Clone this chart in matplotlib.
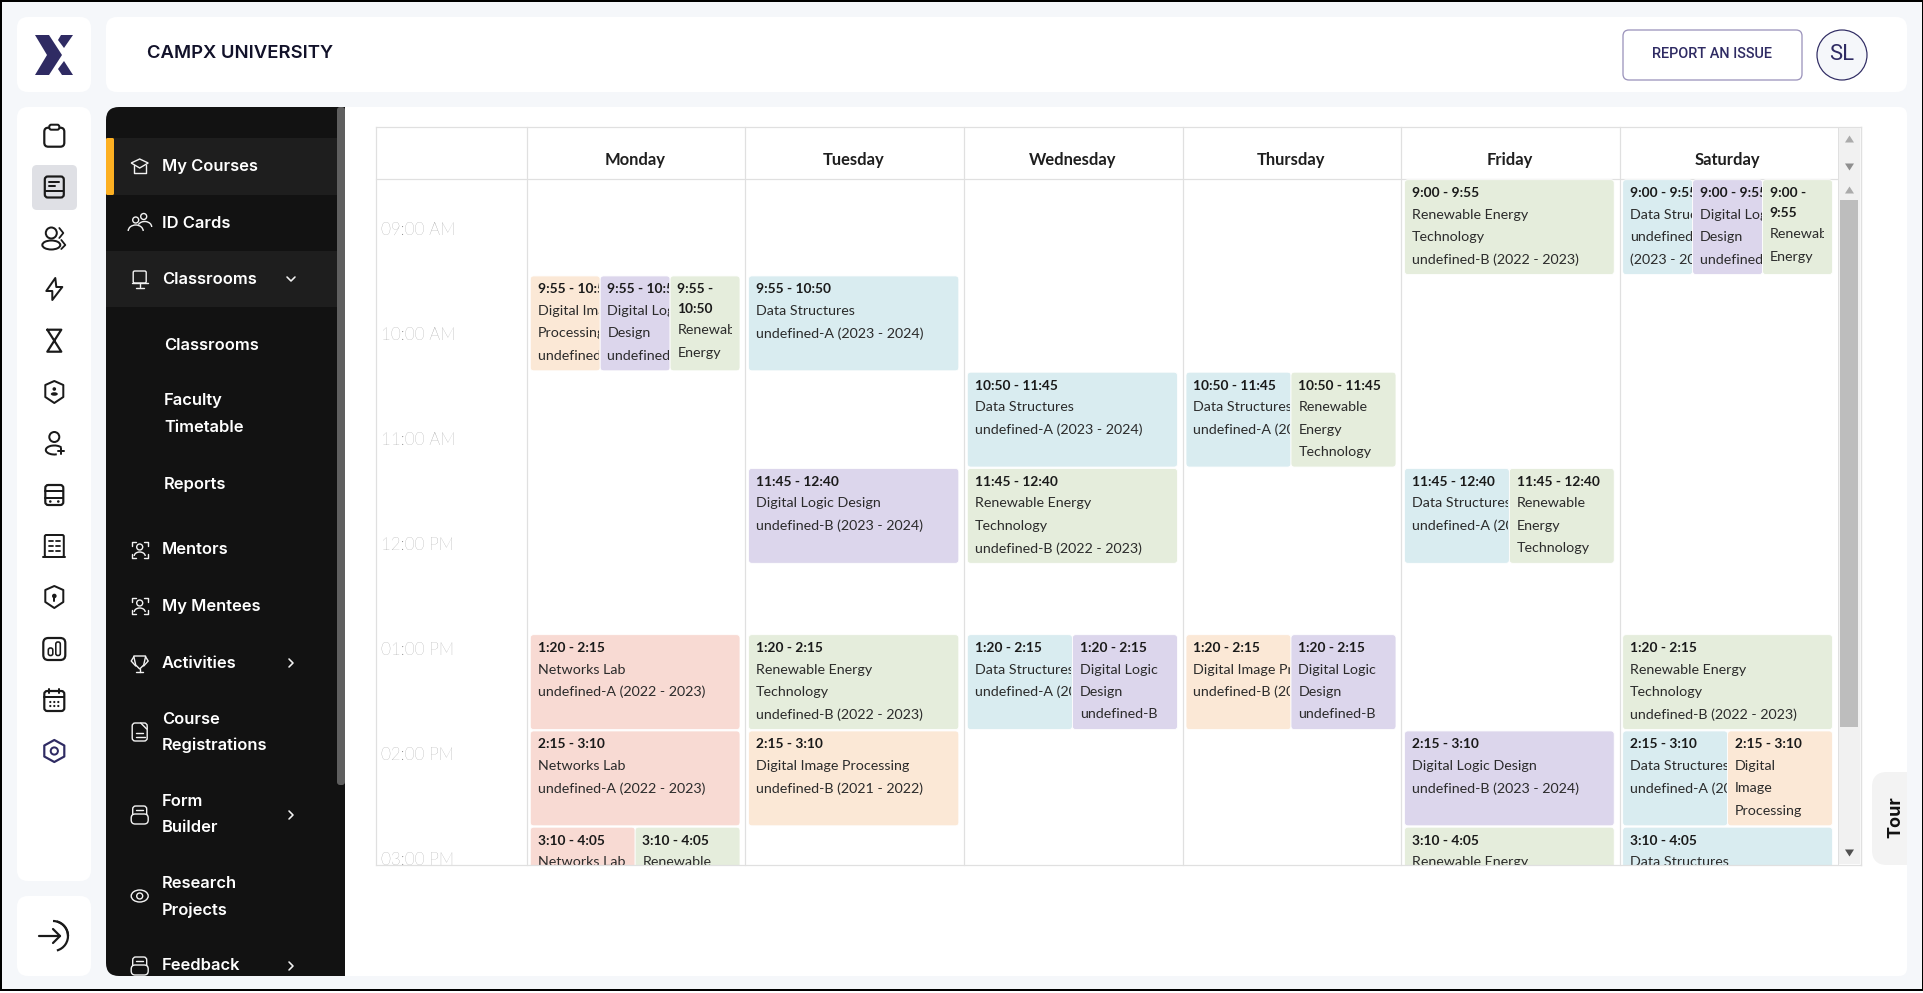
import matplotlib
matplotlib.use("Agg")
import matplotlib.pyplot as plt
from matplotlib.patches import FancyBboxPatch, Rectangle, Circle, Ellipse, Polygon, Arc

# timetable data
days = ["Monday", "Tuesday", "Wednesday", "Thursday", "Friday", "Saturday"]
hour_labels = ["09:00 AM", "10:00 AM", "11:00 AM", "12:00 PM", "01:00 PM", "02:00 PM", "03:00 PM"]

ev_day = [0, 0, 0, 0, 0, 0, 0,
          1, 1, 1, 1,
          2, 2, 2, 2,
          3, 3, 3, 3,
          4, 4, 4, 4, 4,
          5, 5, 5, 5, 5, 5, 5]
ev_start = ["9:55", "9:55", "9:55", "1:20", "2:15", "3:10", "3:10",
            "9:55", "11:45", "1:20", "2:15",
            "10:50", "11:45", "1:20", "1:20",
            "10:50", "10:50", "1:20", "1:20",
            "9:00", "11:45", "11:45", "2:15", "3:10",
            "9:00", "9:00", "9:00", "1:20", "2:15", "2:15", "3:10"]
ev_end = ["10:50", "10:50", "10:50", "2:15", "3:10", "4:05", "4:05",
          "10:50", "12:40", "2:15", "3:10",
          "11:45", "12:40", "2:15", "2:15",
          "11:45", "11:45", "2:15", "2:15",
          "9:55", "12:40", "12:40", "3:10", "4:05",
          "9:55", "9:55", "9:55", "2:15", "3:10", "3:10", "4:05"]
ev_slot = [0, 1, 2, 0, 0, 0, 1,
           0, 0, 0, 0,
           0, 0, 0, 1,
           0, 1, 0, 1,
           0, 0, 1, 0, 0,
           0, 1, 2, 0, 0, 1, 0]
ev_nslots = [3, 3, 3, 1, 1, 2, 2,
             1, 1, 1, 1,
             1, 1, 2, 2,
             2, 2, 2, 2,
             1, 2, 2, 1, 1,
             3, 3, 3, 1, 2, 2, 1]
ev_subject = ["dip", "dld", "ret", "net", "net", "net", "ret",
              "ds", "dld", "ret", "dip",
              "ds", "ret", "ds", "dld",
              "ds", "ret", "dip", "dld",
              "ret", "ds", "ret", "dld", "ret",
              "ds", "dld", "ret", "ret", "ds", "dip", "ds"]
ev_text = [
    ["Digital Image", "Processing", "undefined-B (2021 - 2022)"],
    ["Digital Logic", "Design", "undefined-B (2023 - 2024)"],
    ["Renewable", "Energy"],
    ["Networks Lab", "undefined-A (2022 - 2023)"],
    ["Networks Lab", "undefined-A (2022 - 2023)"],
    ["Networks Lab", "undefined-A (2022 - 2023)"],
    ["Renewable", "Energy"],
    ["Data Structures", "undefined-A (2023 - 2024)"],
    ["Digital Logic Design", "undefined-B (2023 - 2024)"],
    ["Renewable Energy", "Technology", "undefined-B (2022 - 2023)"],
    ["Digital Image Processing", "undefined-B (2021 - 2022)"],
    ["Data Structures", "undefined-A (2023 - 2024)"],
    ["Renewable Energy", "Technology", "undefined-B (2022 - 2023)"],
    ["Data Structures", "undefined-A (2023 - 2024)"],
    ["Digital Logic", "Design", "undefined-B"],
    ["Data Structures", "undefined-A (2023 - 2024)"],
    ["Renewable", "Energy", "Technology"],
    ["Digital Image Processing", "undefined-B (2021 - 2022)"],
    ["Digital Logic", "Design", "undefined-B"],
    ["Renewable Energy", "Technology", "undefined-B (2022 - 2023)"],
    ["Data Structures", "undefined-A (2023 - 2024)"],
    ["Renewable", "Energy", "Technology"],
    ["Digital Logic Design", "undefined-B (2023 - 2024)"],
    ["Renewable Energy", "Technology"],
    ["Data Structures", "undefined-A", "(2023 - 2024)"],
    ["Digital Logic", "Design", "undefined-B (2023 - 2024)"],
    ["Renewable", "Energy"],
    ["Renewable Energy", "Technology", "undefined-B (2022 - 2023)"],
    ["Data Structures", "undefined-A (2023 - 2024)"],
    ["Digital", "Image", "Processing"],
    ["Data Structures", "undefined-A (2023 - 2024)"],
]
subject_colors = {"dip": "#FBE8D6", "dld": "#DCD6EC", "ret": "#E5EDDC", "ds": "#D9ECF0", "net": "#F8DAD3"}

# sidebar text: label lines, y centre of each line, is it a sub item
menu_lines = ["My Courses", "ID Cards", "Classrooms", "Classrooms", "Faculty", "Timetable", "Reports", "Mentors",
              "My Mentees", "Activities", "Course", "Registrations", "Form", "Builder", "Research", "Projects", "Feedback"]
menu_y = [166, 223, 279, 345, 401, 428, 484, 550, 606, 663, 719, 745, 801, 828, 884, 910, 966]
menu_sub = [0, 0, 0, 1, 1, 1, 1, 0, 0, 0, 0, 0, 0, 0, 0, 0, 0]

W, H = 1924, 993
NAVY = "#2F2B63"
BG = "#F5F7FA"
GRID = "#E0E0E0"
INK = "#1A1A1A"
UI_FONT = ["Inter", "DejaVu Sans"]
CAL_FONT = ["Lato", "DejaVu Sans"]

col_x = [527.3, 745.5, 964.3, 1183, 1401.5, 1619.7, 1838]
TABLE_L, TABLE_R, TABLE_T, HEAD_B, TABLE_B = 376, 1861, 127, 179, 865
PX_PER_MIN = 1.75


def px(size):
    return size * 72 / 100


fig = plt.figure(figsize=(W / 100, H / 100), dpi=100, facecolor=BG)
ax = fig.add_axes([0, 0, 1, 1])
ax.set_xlim(0, W)
ax.set_ylim(H, 0)
ax.axis("off")


def rrect(x0, y0, x1, y1, r, fc="none", ec="none", lw=0, z=1):
    p = FancyBboxPatch((x0, y0), x1 - x0, y1 - y0, boxstyle=f"round,pad=0,rounding_size={r}",
                       fc=fc, ec=ec, lw=px(lw), zorder=z)
    ax.add_patch(p)
    return p


def line(xs, ys, c=INK, lw=2, z=5):
    ax.plot(xs, ys, color=c, lw=px(lw), solid_capstyle="round", solid_joinstyle="round", zorder=z)


def minutes(t):
    h, m = t.split(":")
    h = int(h)
    if h < 9:
        h += 12
    return (h - 9) * 60 + int(m)


def time_y(t):
    return HEAD_B + minutes(t) * PX_PER_MIN


# cards
rrect(17, 17, 91, 92, 11, fc="white")
rrect(106, 17, 1907, 92, 11, fc="white")
rrect(17, 107, 91, 881, 11, fc="white")
rrect(17, 896, 91, 976, 11, fc="white")
rrect(320, 107, 1907, 976, 8, fc="white")
rrect(106, 107, 345, 976, 13, fc="#121212", z=2)
ax.add_patch(Rectangle((200, 107), 145, 869, fc="#121212", ec="none", zorder=2))

# logo
ax.add_patch(Polygon([(35, 35), (49, 35), (62, 55), (49, 75), (35, 75), (47, 55)], fc=NAVY, ec="none", zorder=3))
ax.add_patch(Polygon([(61, 35), (73, 35), (64, 48), (58, 40)], fc=NAVY, ec="none", zorder=3))
ax.add_patch(Polygon([(58, 69), (64, 61), (73, 75), (62, 75)], fc=NAVY, ec="none", zorder=3))

ax.text(147, 54, "CAMPX UNIVERSITY", family=UI_FONT, weight="semibold", fontsize=px(18.5), color="#12122A",
        va="center", ha="left", zorder=3)

# button and avatar
rrect(1623, 30, 1802, 80, 6, fc="white", ec="#9C94BC", lw=1.3)
ax.text(1712.5, 53.5, "REPORT AN ISSUE", family=["Roboto", "DejaVu Sans"], weight="medium", fontsize=px(14.5),
        color=NAVY, va="center", ha="center", zorder=3)
ax.add_patch(Circle((1842, 55), 25, fc=BG, ec=NAVY, lw=px(1.2), zorder=3))
ax.text(1842, 54, "SL", family=["Roboto", "DejaVu Sans"], fontsize=px(22), color=NAVY, va="center", ha="center", zorder=4)

# left rail icons
rail_y = [135.7, 187, 239, 289, 340.7, 392, 443, 495, 546, 597, 649, 700, 751]
rrect(32, 165, 77, 210, 5, fc="#DFE0E5", z=2)
cx = 54.3


def rail_icon(i, y):
    x = cx
    if i == 0:
        rrect(x - 10, y - 8, x + 10, y + 11, 4, ec=INK, lw=2.2, z=5)
        rrect(x - 5, y - 11, x + 5, y - 6, 2, fc="white", ec=INK, lw=2, z=6)
    elif i == 1:
        rrect(x - 9.5, y - 10.5, x + 9.5, y + 10.5, 3, ec=INK, lw=2.2, z=5)
        line([x - 9, x + 9], [y + 4, y + 4])
        line([x - 5, x + 5], [y - 5, y - 5])
        line([x - 5, x + 1], [y - 1, y - 1])
    elif i == 2:
        ax.add_patch(Circle((x - 3, y - 6), 5.5, fc="none", ec=INK, lw=px(2), zorder=5))
        ax.add_patch(Ellipse((x - 3, y + 6), 18, 9, fc="none", ec=INK, lw=px(2), zorder=5))
        line([x + 5, x + 9, x + 5], [y - 11, y - 6, y - 1], lw=1.8)
        line([x + 7, x + 11, x + 7], [y + 1, y + 6, y + 10], lw=1.8)
    elif i == 3:
        ax.add_patch(Polygon([(x + 1, y - 11), (x - 8, y + 2), (x - 2, y + 2), (x - 2, y + 11), (x + 8, y - 2),
                              (x + 2, y - 2)], fc="none", ec=INK, lw=px(2), joinstyle="round", zorder=5))
    elif i == 4:
        line([x - 7, x + 7, x - 7, x + 7, x - 7], [y - 11, y + 11, y + 11, y - 11, y - 11], lw=2.2)
    elif i == 5:
        ax.add_patch(Polygon([(x, y - 11), (x + 9, y - 7), (x + 9, y + 5), (x, y + 11), (x - 9, y + 5), (x - 9, y - 7)],
                             fc="none", ec=INK, lw=px(2), joinstyle="round", zorder=5))
        ax.add_patch(Circle((x, y - 3), 1.8, fc=INK, ec="none", zorder=5))
        ax.add_patch(Ellipse((x, y + 2), 7, 3.5, fc=INK, ec="none", zorder=5))
    elif i == 6:
        ax.add_patch(Circle((x, y - 6), 5, fc="none", ec=INK, lw=px(2), zorder=5))
        ax.add_patch(Arc((x, y + 7), 17, 9, theta1=60, theta2=340, ec=INK, lw=px(2), zorder=5))
        line([x + 4, x + 10], [y + 8, y + 8])
        line([x + 7, x + 7], [y + 5, y + 11])
    elif i == 7:
        rrect(x - 9, y - 10, x + 9, y + 10, 3, ec=INK, lw=2.2, z=5)
        line([x - 9, x + 9], [y - 4, y - 4])
        line([x - 9, x + 9], [y + 3, y + 3])
        ax.add_patch(Circle((x - 4, y + 6.5), 1.3, fc=INK, ec="none", zorder=5))
        ax.add_patch(Circle((x + 4, y + 6.5), 1.3, fc=INK, ec="none", zorder=5))
    elif i == 8:
        rrect(x - 9.5, y - 11, x + 9.5, y + 11, 1.5, ec=INK, lw=2, z=5)
        line([x - 11, x + 11], [y + 11, y + 11])
        for dy in (-5, 0, 5):
            line([x - 5.5, x - 1.5], [y + dy, y + dy], lw=1.8)
            line([x + 1.5, x + 5.5], [y + dy, y + dy], lw=1.8)
    elif i == 9:
        ax.add_patch(Polygon([(x, y - 11), (x + 9, y - 7), (x + 9, y + 5), (x, y + 11), (x - 9, y + 5), (x - 9, y - 7)],
                             fc="none", ec=INK, lw=px(2), joinstyle="round", zorder=5))
        ax.add_patch(Circle((x, y - 1), 2.3, fc=INK, ec="none", zorder=5))
        line([x, x], [y, y + 4])
    elif i == 10:
        rrect(x - 11, y - 11, x + 11, y + 11, 5, ec=INK, lw=2.2, z=5)
        rrect(x - 6, y - 1, x - 1.5, y + 6.5, 2, ec=INK, lw=1.6, z=5)
        rrect(x + 1.5, y - 7, x + 6, y + 6.5, 2, ec=INK, lw=1.6, z=5)
    elif i == 11:
        rrect(x - 10, y - 9, x + 10, y + 11, 3, ec=INK, lw=2.2, z=5)
        line([x - 10, x + 10], [y - 3, y - 3])
        line([x - 5, x - 5], [y - 11, y - 7])
        line([x + 5, x + 5], [y - 11, y - 7])
        for dx in (-4, 0, 4):
            for dy in (2, 6):
                ax.add_patch(Circle((x + dx, y + dy), 1.1, fc=INK, ec="none", zorder=5))
    elif i == 12:
        ax.add_patch(Polygon([(x, y - 11), (x + 10, y - 5.5), (x + 10, y + 5.5), (x, y + 11), (x - 10, y + 5.5),
                              (x - 10, y - 5.5)], fc="none", ec=NAVY, lw=px(2.2), joinstyle="round", zorder=5))
        ax.add_patch(Circle((x, y), 3.6, fc="none", ec=NAVY, lw=px(2), zorder=5))


for i, y in enumerate(rail_y):
    rail_icon(i, y)

# exit icon
ax.add_patch(Arc((53, 936), 30, 30, theta1=-90 + 0, theta2=75, ec=INK, lw=px(2.2), zorder=5))
ax.add_patch(Arc((53, 936), 30, 30, theta1=285, theta2=360, ec=INK, lw=px(2.2), zorder=5))
line([39.5, 60], [936, 936], lw=2.2)
line([53, 60, 53], [929, 936, 943], lw=2.2)

# sidebar rows
ax.add_patch(Rectangle((106, 138), 231, 57, fc="#1E1E1E", ec="none", zorder=3))
ax.add_patch(Rectangle((106, 251), 231, 56, fc="#1E1E1E", ec="none", zorder=3))
rrect(106, 138, 114, 195, 1.5, fc="#FDB022", z=4)
side_scroll = rrect(337, 107, 345, 785, 3, fc="#5F5F5F", z=3)

clip_side = Rectangle((106, 107), 239, 869, transform=ax.transData)
for label, y, sub in zip(menu_lines, menu_y, menu_sub):
    t = ax.text(164 if sub else 161.7, y, label, family=UI_FONT, weight="semibold", fontsize=px(16.5), color="white",
                va="center", ha="left", zorder=6)
    t.set_clip_path(clip_side)
    t.set_clip_on(True)

# sidebar icons
ix = 139.7
WH = "#F2F2F2"


def wline(xs, ys, lw=1.4):
    line(xs, ys, c=WH, lw=lw, z=6)


def face_icon(y):
    for sx, sy in ((-1, -1), (1, -1), (-1, 1), (1, 1)):
        wline([ix + sx * 8, ix + sx * 8, ix + sx * 4], [y + sy * 4, y + sy * 8, y + sy * 8])
    ax.add_patch(Circle((ix, y - 3), 3, fc="none", ec=WH, lw=px(1.4), zorder=6))
    ax.add_patch(Arc((ix, y + 6), 11, 8, theta1=180, theta2=360, ec=WH, lw=px(1.4), zorder=6))


def form_icon(y):
    rrect(ix - 7, y - 9, ix + 7, y + 3, 3, ec=WH, lw=1.4, z=6)
    rrect(ix - 8.5, y - 1, ix + 8.5, y + 9, 4, fc="#121212", ec=WH, lw=1.4, z=6)
    wline([ix - 3.5, ix + 3.5], [y - 5, y - 5])


# graduation cap
ax.add_patch(Polygon([(ix - 8.5, 163), (ix, 159), (ix + 8.5, 163), (ix, 168)], fc="none", ec=WH, lw=px(1.4), zorder=6))
wline([ix - 6, ix - 6, ix + 6, ix + 6], [165, 173, 173, 165])
# people
ax.add_patch(Circle((ix - 4, 220), 3, fc="none", ec=WH, lw=px(1.4), zorder=6))
ax.add_patch(Circle((ix + 4, 216.5), 3, fc="none", ec=WH, lw=px(1.4), zorder=6))
ax.add_patch(Arc((ix - 4, 231), 15, 12, theta1=180, theta2=360, ec=WH, lw=px(1.4), zorder=6))
ax.add_patch(Arc((ix + 5, 227), 14, 11, theta1=200, theta2=360, ec=WH, lw=px(1.4), zorder=6))
# presentation
rrect(ix - 6.5, 271, ix + 6.5, 283, 1.5, ec=WH, lw=1.4, z=6)
wline([ix - 8, ix + 8], [283, 283])
wline([ix, ix], [283, 287])
wline([ix - 4, ix + 4], [287.5, 287.5])
# faces
face_icon(550)
face_icon(606)
# trophy
ax.add_patch(Polygon([(ix - 6, 656), (ix + 6, 656), (ix + 4, 665), (ix, 669), (ix - 4, 665)], fc="none", ec=WH,
                     lw=px(1.4), zorder=6))
wline([ix - 6, ix - 8.5, ix - 4], [657, 661, 666])
wline([ix + 6, ix + 8.5, ix + 4], [657, 661, 666])
wline([ix, ix], [669, 672])
wline([ix - 3.5, ix + 3.5], [672, 672])
# document
rrect(ix - 7.5, 723, ix + 7.5, 741, 3, ec=WH, lw=1.4, z=6)
wline([ix - 3.5, ix + 3], [733, 733])
wline([ix - 3.5, ix + 5], [737, 737])
wline([ix + 1, ix + 7], [723, 729])
form_icon(815)
form_icon(966)
# eye
ax.add_patch(Ellipse((ix, 896), 17, 12, fc="none", ec=WH, lw=px(1.4), zorder=6))
ax.add_patch(Circle((ix, 896), 3, fc="none", ec=WH, lw=px(1.4), zorder=6))

# chevrons
chev_x = 291
wline([chev_x - 4, chev_x, chev_x + 4], [277, 281, 277], lw=1.6)
for y in (663, 815, 966):
    wline([chev_x - 2, chev_x + 2, chev_x - 2], [y - 4, y, y + 4], lw=1.6)

# table frame and header
for x in [TABLE_L] + col_x[:-1] + [TABLE_R]:
    ax.plot([x, x], [TABLE_T, TABLE_B], color=GRID, lw=px(1.2), zorder=2)
ax.plot([TABLE_L, TABLE_R], [TABLE_T, TABLE_T], color=GRID, lw=px(1.2), zorder=2)
ax.plot([TABLE_L, col_x[-1]], [HEAD_B, HEAD_B], color=GRID, lw=px(1.2), zorder=2)
ax.plot([TABLE_L, TABLE_R], [TABLE_B, TABLE_B], color=GRID, lw=px(1.2), zorder=8)

for d, name in enumerate(days):
    ax.text((col_x[d] + col_x[d + 1]) / 2 - 1, 160.5, name, family=CAL_FONT, weight="bold", fontsize=px(16.5),
            color="#1F1F1F", va="center", ha="center", zorder=3)

table_clip = Rectangle((TABLE_L, TABLE_T), TABLE_R - TABLE_L, TABLE_B - TABLE_T, transform=ax.transData)

for i, lab in enumerate(hour_labels):
    t = ax.text(381, HEAD_B + 51 + i * 60 * PX_PER_MIN, lab, family=CAL_FONT, weight="light", fontsize=px(17),
                color="#7A7A7A", va="center", ha="left", zorder=3)
    t.set_clip_path(table_clip)
    t.set_clip_on(True)

# events
for i in range(len(ev_day)):
    x0 = col_x[ev_day[i]] + 3
    x1 = col_x[ev_day[i] + 1] - 5.5
    w = (x1 - x0) / ev_nslots[i]
    left = x0 + ev_slot[i] * w
    right = left + w
    top = time_y(ev_start[i]) + 0.7
    bot = time_y(ev_end[i]) - 0.7
    box = rrect(left, top, right, bot, 3.5, fc=subject_colors[ev_subject[i]], ec="white", lw=0.8, z=4 + 0.01 * i)
    box.set_clip_path(table_clip)
    last = ev_slot[i] == ev_nslots[i] - 1
    tx = left + 7.3
    limit = right - 8 if last and ev_nslots[i] > 1 else right - 1
    clip = Rectangle((left, top), limit - left, min(bot, TABLE_B) - top, transform=ax.transData)
    span = ev_start[i] + " - " + ev_end[i]
    if w < 75:
        if last:
            lines = [ev_start[i] + " -", ev_end[i]]
        else:
            lines = [span]
    else:
        lines = [span]
    y = top + 13.5
    for j, s in enumerate(lines):
        t = ax.text(tx, y, s, family=CAL_FONT, weight="bold", fontsize=px(13.7), color="#1A1A1A", va="center",
                    ha="left", zorder=4.5 + 0.01 * i)
        t.set_clip_path(clip)
        t.set_clip_on(True)
        y += 19.5 if j + 1 < len(lines) else 21.5
    for s in ev_text[i]:
        t = ax.text(tx, y, s, family=CAL_FONT, fontsize=px(14.2), color="#2B2B2B", va="center", ha="left",
                    zorder=4.5 + 0.01 * i)
        t.set_clip_path(clip)
        t.set_clip_on(True)
        y += 22.4

# table scrollbars
ax.add_patch(Rectangle((1838.5, 128), 22, 736, fc="#F1F1F1", ec="none", zorder=3))
ax.plot([1838, 1838], [TABLE_T, TABLE_B], color=GRID, lw=px(1), zorder=3)
ax.plot([TABLE_R, TABLE_R], [TABLE_T, TABLE_B], color=GRID, lw=px(1.2), zorder=3)
ax.add_patch(Rectangle((1840.5, 200), 17.5, 527, fc="#BDBDBD", ec="none", zorder=4))
for y, up, c in ((139, True, "#ABABAB"), (167, False, "#8F8F8F"), (190, True, "#ABABAB"), (853, False, "#505050")):
    d = -3.5 if up else 3.5
    ax.add_patch(Polygon([(1849.5 - 4.5, y - d), (1849.5 + 4.5, y - d), (1849.5, y + d)], fc=c, ec="none", zorder=5))

# tour tab
rrect(1872, 772, 1930, 865, 15, fc="#F3F3F3", z=3)
ax.add_patch(Rectangle((1907, 760), 17, 120, fc=BG, ec="none", zorder=3.5))
ax.text(1896, 817, "Tour", family=UI_FONT, weight="bold", fontsize=px(18), rotation=90, color="#111111",
        va="center", ha="center", zorder=5)

# screenshot border
ax.add_patch(Rectangle((1, 1), W - 2, 989, fc="none", ec="black", lw=px(2), zorder=20))
ax.add_patch(Rectangle((0, 990), W, 3, fc="white", ec="none", zorder=19))

fig.savefig("out.png", dpi=100, facecolor=fig.get_facecolor())
